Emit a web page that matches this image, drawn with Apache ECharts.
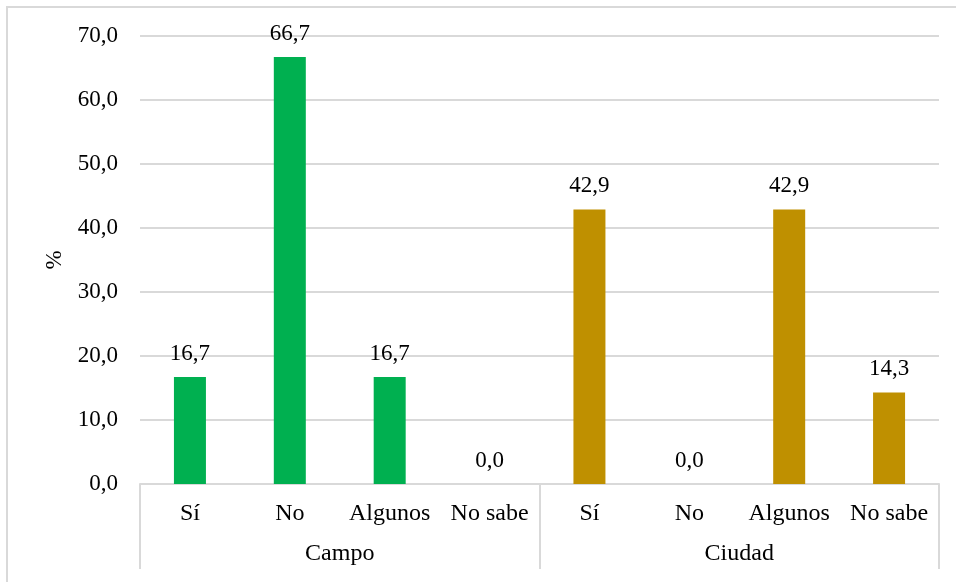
<!DOCTYPE html>
<html>
<head>
<meta charset="utf-8">
<script src="https://cdn.jsdelivr.net/npm/echarts@6/dist/echarts.min.js"></script>
<style>
  html, body { margin: 0; padding: 0; background: #fff; }
  #chart { width: 956px; height: 582px; }
</style>
</head>
<body>
<div id="chart"></div>
<script>
// Answers per group
const answers = ['Sí', 'No', 'Algunos', 'No sabe'];
const groups = ['Campo', 'Ciudad'];
const campoValues = [16.7, 66.7, 16.7, 0.0];
const ciudadValues = [42.9, 0.0, 42.9, 14.3];
const groupColors = ['#00b050', '#bf9000'];
const yTicks = { min: 0, max: 70, interval: 10 };

const categories = answers.concat(answers);
const barData = campoValues.map(v => ({ value: v, itemStyle: { color: groupColors[0] } }))
  .concat(ciudadValues.map(v => ({ value: v, itemStyle: { color: groupColors[1] } })));

const fmt = v => Number(v).toFixed(1).replace('.', ',');
const font = '"Liberation Serif", "Times New Roman", serif';
const gridColor = '#d9d9d9';

const chart = echarts.init(document.getElementById('chart'));
chart.setOption({
  animation: false,
  textStyle: { fontFamily: font, color: '#000' },
  grid: { left: 140, right: 17, top: 36, bottom: 98 },
  graphic: [{
    type: 'rect',
    shape: { x: 7, y: 7, width: 950, height: 590 },
    style: { fill: 'none', stroke: gridColor, lineWidth: 2 },
    silent: true
  }],
  xAxis: [{
    type: 'category',
    data: categories,
    axisLine: { lineStyle: { color: gridColor, width: 2 } },
    axisTick: { show: false },
    axisLabel: { fontFamily: font, fontSize: 24, color: '#000', margin: 18, interval: 0 }
  }, {
    type: 'category',
    data: groups,
    position: 'bottom',
    axisLine: { show: false },
    axisTick: { show: true, length: 85, lineStyle: { color: gridColor, width: 2 } },
    axisLabel: { fontFamily: font, fontSize: 24, color: '#000', margin: 58 }
  }],
  yAxis: {
    type: 'value',
    min: yTicks.min, max: yTicks.max, interval: yTicks.interval,
    name: '%',
    nameLocation: 'middle',
    nameRotate: 90,
    nameGap: 71,
    nameTextStyle: { fontFamily: font, fontSize: 23, color: '#000' },
    axisLine: { show: false },
    axisTick: { show: false },
    axisLabel: { fontFamily: font, fontSize: 23, color: '#000', margin: 22, formatter: fmt },
    splitLine: { lineStyle: { color: gridColor, width: 2 } }
  },
  series: [{
    type: 'bar',
    xAxisIndex: 0,
    data: barData,
    barWidth: 32,
    label: {
      show: true,
      position: 'top',
      distance: 12,
      fontFamily: font,
      fontSize: 23,
      color: '#000',
      formatter: p => fmt(p.value)
    }
  }]
});
</script>
</body>
</html>
